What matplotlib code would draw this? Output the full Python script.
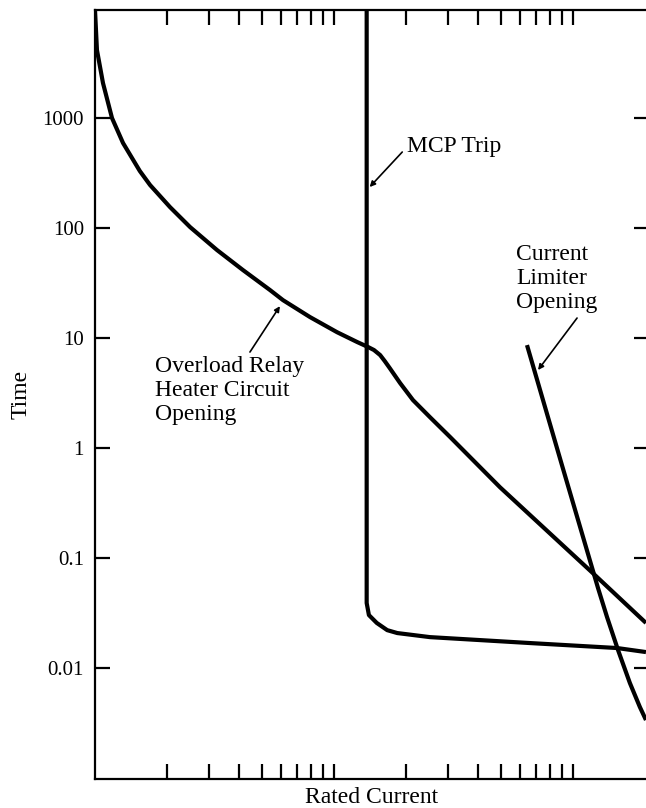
import matplotlib
matplotlib.use("Agg")
import matplotlib.pyplot as plt

plt.rcParams['font.family'] = ['Liberation Serif', 'DejaVu Serif']

# curve data (x = multiple of rated current, y = time)
overload_x = [1.0, 1.019, 1.08, 1.178, 1.31, 1.54, 1.70, 2.06, 2.50, 3.24, 4.16,
              5.40, 6.12, 7.94, 10.3, 12.5, 13.9, 14.7, 15.6, 16.3, 17.1, 18.9,
              21.4, 25.2, 30.6, 49.5, 121, 202]
overload_y = [9600, 4150, 2080, 1000, 593, 330, 246, 155, 102, 63.1, 41.5,
              27.3, 22.1, 15.5, 11.3, 9.20, 8.28, 7.78, 7.0, 6.18, 5.34, 3.90,
              2.73, 1.91, 1.26, 0.44, 0.073, 0.0257]

mcp_x = [13.7, 13.7, 14.0, 15.1, 16.7, 18.4, 25.2, 66.1, 153, 202]
mcp_y = [20000, 0.039, 0.0303, 0.0257, 0.0221, 0.0208, 0.0191, 0.01687, 0.0152, 0.01397]

limiter_x = [64.2, 89.9, 127.3, 138.8, 154.3, 173, 190.5, 202]
limiter_y = [8.63, 0.70, 0.0533, 0.0291, 0.0146, 0.00731, 0.00442, 0.00337]

ytick_vals = [0.01, 0.1, 1, 10, 100, 1000]
ytick_labels = ['0.01', '0.1', '1', '10', '100', '1000']
xtick_vals = [2, 3, 4, 5, 6, 7, 8, 9, 10, 20, 30, 40, 50, 60, 70, 80, 90, 100]

fig = plt.figure(figsize=(6.46, 8.08), dpi=100)
# right edge of the frame runs just past the picture, as in the scan
ax = fig.add_axes([95 / 646, 29 / 808, 554 / 646, 769 / 808])
ax.set_xscale('log')
ax.set_yscale('log')
ax.set_xlim(1.0, 208)
ax.set_ylim(0.00098, 9600)

lw = 3.0
for xs, ys in [(overload_x, overload_y), (mcp_x, mcp_y), (limiter_x, limiter_y)]:
    ax.plot(xs, ys, color='black', lw=lw, solid_capstyle='butt',
            solid_joinstyle='round')

for s in ax.spines.values():
    s.set_linewidth(1.6)

ax.set_xticks(xtick_vals)
ax.set_xticklabels([])
ax.xaxis.set_minor_locator(matplotlib.ticker.NullLocator())
ax.set_yticks(ytick_vals)
ax.set_yticklabels(ytick_labels)
ax.yaxis.set_minor_locator(matplotlib.ticker.NullLocator())
ax.tick_params(axis='x', which='major', direction='in', top=True, bottom=True,
               length=11, width=1.6)
ax.tick_params(axis='y', which='major', direction='in', left=True, right=True,
               length=11, width=1.6, labelsize=15, pad=8)

ax.set_xlabel('Rated Current', fontsize=17, labelpad=2)
ax.set_ylabel('Time', fontsize=17, labelpad=8)

txt = dict(fontsize=17, color='black')
arrow = dict(arrowstyle='-|>', color='black', lw=1.2, mutation_scale=8,
             shrinkA=0, shrinkB=0)

ax.text(20.2, 556, 'MCP Trip', ha='left', va='center', **txt)
ax.annotate('', xy=(14.1, 236), xytext=(19.3, 491), arrowprops=arrow)

ax.text(1.78, 6.86, 'Overload Relay\nHeater Circuit\nOpening', ha='left', va='top',
        linespacing=1.18, **txt)
ax.annotate('', xy=(5.94, 19.5), xytext=(4.45, 7.46), arrowprops=arrow)

ax.text(57.8, 71.6, 'Current\nLimiter\nOpening', ha='left', va='top',
        linespacing=1.18, **txt)
ax.annotate('', xy=(71.4, 5.12), xytext=(104, 15.2), arrowprops=arrow)

fig.savefig('out.png', dpi=100)
